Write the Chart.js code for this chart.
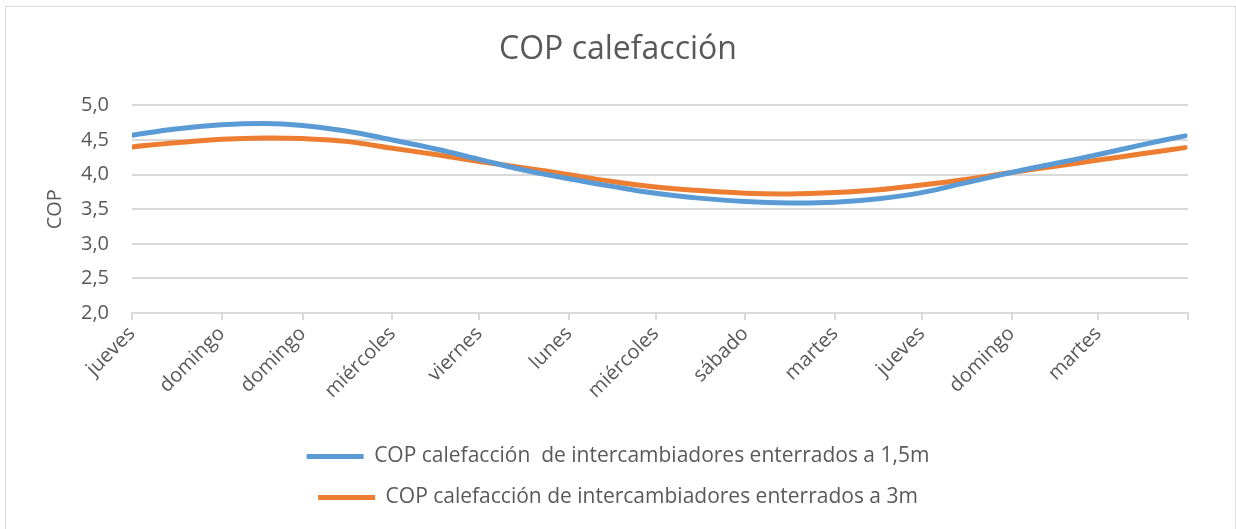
<!DOCTYPE html>
<html>
<head>
<meta charset="utf-8">
<script src="https://cdn.jsdelivr.net/npm/chart.js@4.4.1/dist/chart.umd.min.js"></script>
<style>
  html, body { margin: 0; padding: 0; background: #fff; }
  #wrap { width: 1236px; height: 529px; position: relative; }
</style>
</head>
<body>
<div id="wrap"><canvas id="cop-chart" width="1236" height="529"></canvas></div>
<script>
// day of year (2015) where each month starts, plus end of year
const monthStarts = [0, 31, 59, 90, 120, 151, 181, 212, 243, 273, 304, 334, 365];
// weekday name of the 1st of each month, as shown on the axis
const monthLabels = ['jueves', 'domingo', 'domingo', 'miércoles', 'viernes', 'lunes',
  'miércoles', 'sábado', 'martes', 'jueves', 'domingo', 'martes', ''];
const yTickLabels = ['2,0', '2,5', '3,0', '3,5', '4,0', '4,5', '5,0'];

// sample days
const sampleDays = [0, 15, 31, 46, 59, 74, 90, 105, 120, 135, 151, 166, 181,
  196, 212, 227, 243, 258, 273, 288, 304, 319, 334, 349, 364];
const cop15 = [4.57, 4.66, 4.72, 4.74, 4.71, 4.63, 4.50, 4.37, 4.22, 4.07, 3.94, 3.83, 3.73,
  3.66, 3.61, 3.59, 3.60, 3.65, 3.74, 3.88, 4.03, 4.16, 4.29, 4.43, 4.56];
const cop3 = [4.40, 4.46, 4.51, 4.53, 4.52, 4.48, 4.38, 4.29, 4.19, 4.10, 4.00, 3.90, 3.82,
  3.77, 3.73, 3.72, 3.74, 3.78, 3.85, 3.93, 4.03, 4.12, 4.21, 4.30, 4.39];

const textColor = '#595959';
const gridColor = '#d9d9d9';
const fontFamily = '"Open Sans", sans-serif';

// light frame around the whole chart, like the Excel chart border
const frame = {
  id: 'frame',
  beforeDraw(chart) {
    const ctx = chart.ctx;
    ctx.save();
    ctx.fillStyle = '#fff';
    ctx.fillRect(0, 0, chart.width, chart.height);
    ctx.strokeStyle = gridColor;
    ctx.lineWidth = 1;
    ctx.strokeRect(5.5, 6.5, 1230, 540);
    ctx.restore();
  }
};

const toPoints = vals => vals.map((v, i) => ({ x: sampleDays[i], y: v }));

new Chart(document.getElementById('cop-chart'), {
  type: 'line',
  data: {
    datasets: [{
      label: 'COP calefacción  de intercambiadores enterrados a 1,5m',
      data: toPoints(cop15),
      borderColor: '#5B9BD5',
      backgroundColor: '#5B9BD5',
      borderWidth: 5,
      borderCapStyle: 'round',
      pointRadius: 0,
      tension: 0.4
    }, {
      label: 'COP calefacción de intercambiadores enterrados a 3m',
      data: toPoints(cop3),
      borderColor: '#ED7D31',
      backgroundColor: '#ED7D31',
      borderWidth: 5,
      borderCapStyle: 'round',
      pointRadius: 0,
      tension: 0.4
    }]
  },
  options: {
    responsive: false,
    animation: false,
    layout: { padding: { left: 0, right: 0, top: 0, bottom: 11 } },
    plugins: {
      title: {
        display: true,
        text: 'COP calefacción',
        color: textColor,
        font: { family: fontFamily, size: 32, weight: 'normal' },
        padding: { top: 31, bottom: 36 }
      },
      legend: {
        position: 'bottom',
        maxHeight: 104,
        labels: {
          color: textColor,
          font: { family: fontFamily, size: 21 },
          usePointStyle: true,
          pointStyle: 'line',
          pointStyleWidth: 57,
          padding: 20
        }
      },
      tooltip: { enabled: false }
    },
    scales: {
      x: {
        type: 'linear',
        min: 0,
        max: 365,
        afterBuildTicks: scale => {
          scale.ticks = monthStarts.map(v => ({ value: v }));
        },
        afterFit: scale => { scale.height = 113; },
        ticks: {
          autoSkip: false,
          minRotation: 45,
          maxRotation: 45,
          color: textColor,
          font: { family: fontFamily, size: 20 },
          padding: 2,
          callback: (value, index) => monthLabels[index]
        },
        grid: {
          drawOnChartArea: false,
          drawTicks: true,
          tickLength: 7,
          color: gridColor,
          lineWidth: 2
        },
        border: { color: gridColor, width: 2 }
      },
      y: {
        min: 2,
        max: 5,
        afterFit: scale => { scale.width = 132; },
        ticks: {
          stepSize: 0.5,
          color: textColor,
          font: { family: fontFamily, size: 20 },
          padding: 23,
          callback: (value, index) => yTickLabels[index]
        },
        grid: { color: gridColor, lineWidth: 2, drawTicks: false },
        border: { display: false },
        title: {
          display: true,
          text: 'COP',
          color: textColor,
          font: { family: fontFamily, size: 20 },
          padding: { top: 43, bottom: 0 }
        }
      },
      // empty right-hand axis that only reserves the margin right of the plot
      yRight: {
        position: 'right',
        display: true,
        afterFit: scale => { scale.width = 48; },
        ticks: { display: false },
        grid: { display: false, drawTicks: false },
        border: { display: false }
      }
    }
  },
  plugins: [frame]
});
</script>
</body>
</html>
